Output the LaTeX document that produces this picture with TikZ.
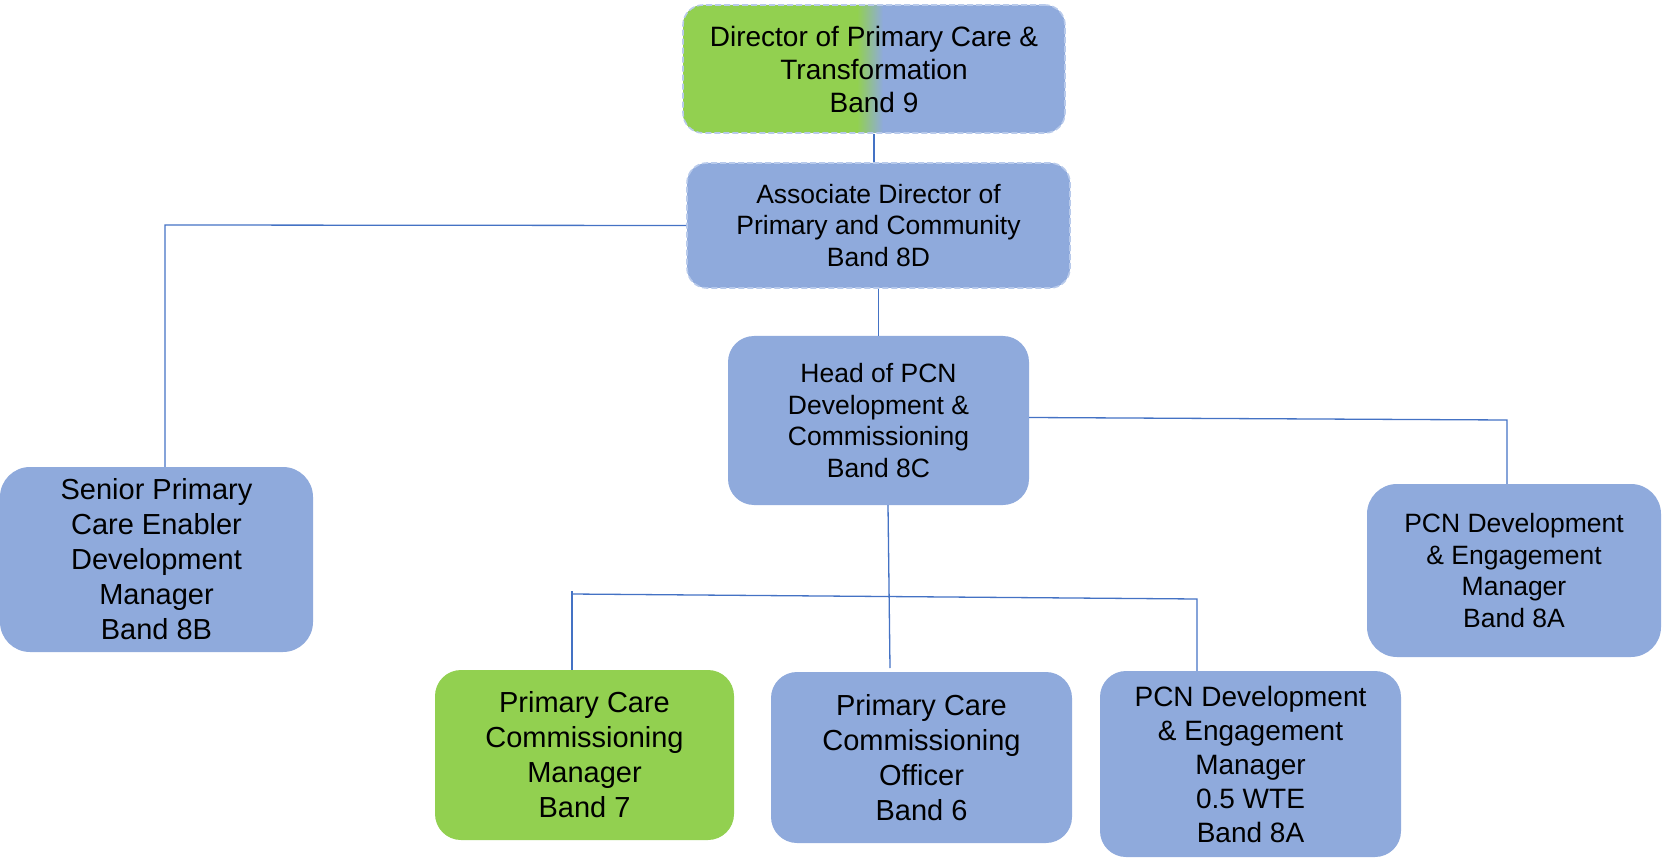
\documentclass[tikz,border=0pt]{standalone}
\usepackage{fontspec}
\setmainfont{Liberation Sans}
\definecolor{cblue}{RGB}{143,170,220}
\definecolor{cgreen}{RGB}{146,208,80}
\definecolor{cline}{RGB}{68,114,196}
\definecolor{cdash}{RGB}{184,202,235}
\tikzset{
  box/.style={rectangle, rounded corners=26pt, fill=cblue, draw=none, align=center, inner sep=0pt, text=black},
  dashbox/.style={box, rounded corners=20pt, draw=cdash, line width=1.6pt, dash pattern=on 6pt off 3pt},
  conn/.style={draw=cline, line width=1.3pt},
  fa/.style={font=\fontsize{28}{33}\selectfont},
  fb/.style={font=\fontsize{26.5}{31.8}\selectfont},
  fc/.style={font=\fontsize{29}{35}\selectfont},
  fd/.style={font=\fontsize{28}{34}\selectfont},
}
\begin{document}
\begin{tikzpicture}[x=1pt,y=-1pt]
\useasboundingbox (0,0) rectangle (1662,858);
\node[dashbox, fa, minimum width=382pt, minimum height=128pt,
  path picture={
    \fill[cgreen, sharp corners] (path picture bounding box.south west) rectangle ([xshift=-17pt]path picture bounding box.north);
    \shade[left color=cgreen, right color=cblue, sharp corners] ([xshift=-17pt]path picture bounding box.south) rectangle ([xshift=9pt]path picture bounding box.north);
  }] (top) at (874,69) {Director of Primary Care \&\\Transformation\\Band 9};
\node[dashbox, fb, minimum width=383pt, minimum height=125pt] (assoc) at (878.5,225.5) {Associate Director of\\Primary and Community\\Band 8D};
\node[box, fb, minimum width=301pt, minimum height=169pt] (head) at (878.5,420.5) {Head of PCN\\Development \&\\Commissioning\\Band 8C};
\node[box, fc, rounded corners=30pt, minimum width=313pt, minimum height=185pt] (senior) at (156.5,559.5) {Senior Primary\\Care Enabler\\Development\\Manager\\Band 8B};
\node[box, fb, rounded corners=30pt, minimum width=294pt, minimum height=173pt] (pcnr) at (1514,570.5) {PCN Development\\\& Engagement\\Manager\\Band 8A};
\node[box, fc, fill=cgreen, minimum width=299pt, minimum height=170pt] (pccm) at (584.5,755) {Primary Care\\Commissioning\\Manager\\Band 7};
\node[box, fc, minimum width=301pt, minimum height=171pt] (pcco) at (921.5,757.5) {Primary Care\\Commissioning\\Officer\\Band 6};
\node[box, fd, minimum width=301pt, minimum height=186pt] (pcnb) at (1250.5,764) {PCN Development\\\& Engagement\\Manager\\0.5 WTE\\Band 8A};
% connectors
\coordinate (c1) at (165,225);
\coordinate (c2) at (1507,420);
\coordinate (c3) at (890,668);
\coordinate (c4) at (572,591);
\coordinate (c5) at (571,594);
\coordinate (c6) at (1197,599);
\draw[conn] (top.south) -- (top.south |- assoc.north);
\draw[conn] (assoc.west) -- (c1) -- (c1 |- senior.north);
\draw[conn] (assoc.south) -- (head.north);
\draw[conn] ([yshift=3pt]head.east) -- (c2) -- (c2 |- pcnr.north);
\draw[conn] ([xshift=9.5pt]head.south) -- (c3);
\draw[conn] (c5) -- (c6) -- (c6 |- pcnb.north);
\draw[conn] (c4) -- (c4 |- pccm.north);
\end{tikzpicture}
\end{document}
